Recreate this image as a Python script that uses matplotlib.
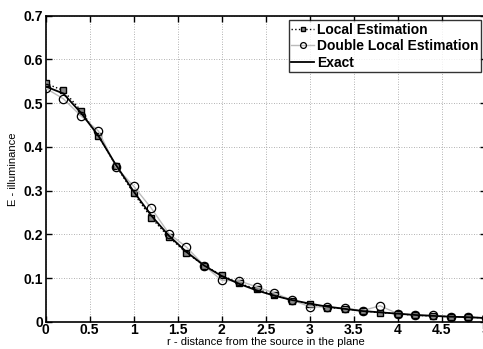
import matplotlib
matplotlib.use("Agg")
import matplotlib.pyplot as plt

r = [0.0, 0.2, 0.4, 0.6, 0.8, 1.0, 1.2, 1.4, 1.6, 1.8, 2.0, 2.2, 2.4, 2.6, 2.8,
     3.0, 3.2, 3.4, 3.6, 3.8, 4.0, 4.2, 4.4, 4.6, 4.8, 5.0]
local_est = [0.545, 0.529, 0.483, 0.424, 0.357, 0.294, 0.238, 0.194, 0.158, 0.129,
             0.107, 0.088, 0.075, 0.062, 0.049, 0.041, 0.033, 0.030, 0.026, 0.021,
             0.019, 0.015, 0.014, 0.012, 0.011, 0.009]
double_est = [0.534, 0.510, 0.471, 0.436, 0.354, 0.310, 0.260, 0.202, 0.171, 0.129,
              0.095, 0.094, 0.080, 0.066, 0.050, 0.035, 0.034, 0.032, 0.026, 0.037,
              0.019, 0.016, 0.015, 0.012, 0.011, 0.009]
exact = [0.538, 0.522, 0.478, 0.425, 0.358, 0.298, 0.243, 0.197, 0.160, 0.129,
         0.105, 0.087, 0.072, 0.060, 0.050, 0.042, 0.035, 0.030, 0.025, 0.022,
         0.019, 0.016, 0.014, 0.012, 0.011, 0.009]

xticks = [0, 0.5, 1, 1.5, 2, 2.5, 3, 3.5, 4, 4.5, 5]
xticklabels = ["0", "0.5", "1", "1.5", "2", "2.5", "3", "3.5", "4", "4.5", "5"]
yticks = [0, 0.1, 0.2, 0.3, 0.4, 0.5, 0.6, 0.7]
yticklabels = ["0", "0.1", "0.2", "0.3", "0.4", "0.5", "0.6", "0.7"]

plt.rcParams['font.family'] = ['Liberation Sans', 'DejaVu Sans']

fig = plt.figure(figsize=(4.83, 3.49), dpi=100)
ax = fig.add_axes([0.0946, 0.0774, 0.911, 0.878])

ax.plot(r, local_est, linestyle=':', color='black', linewidth=1.0,
        marker='s', markersize=4, markerfacecolor='#888888',
        markeredgecolor='black', markeredgewidth=1.0, label='Local Estimation', zorder=3)
ax.plot(r, double_est, linestyle='-', color='#bbbbbb', linewidth=1.0,
        marker='o', markersize=6, markerfacecolor='none',
        markeredgecolor='black', markeredgewidth=0.9, label='Double Local Estimation', zorder=4)
ax.plot(r, exact, linestyle='-', color='black', linewidth=1.3, label='Exact', zorder=5)

ax.set_xlim(0, 5)
ax.set_ylim(0, 0.7)
ax.set_xticks(xticks)
ax.set_xticklabels(xticklabels, fontweight='bold', fontsize=10)
ax.set_yticks(yticks)
ax.set_yticklabels(yticklabels, fontweight='bold', fontsize=10)
ax.tick_params(direction='in', top=True, right=True, length=4, width=1)
ax.tick_params(axis='x', pad=1)
ax.tick_params(axis='y', pad=2)
ax.grid(True, linestyle=(0, (1, 2)), color='#999999', linewidth=0.6)
for s in ax.spines.values():
    s.set_linewidth(1.2)

ax.set_xlabel('r - distance from the source in the plane', fontsize=8, labelpad=0)
ax.set_ylabel('E - illuminance', fontsize=8, labelpad=4)

leg = ax.legend(loc='upper right', bbox_to_anchor=(0.995, 0.993),
                prop={'weight': 'bold', 'size': 10}, frameon=True, fancybox=False,
                edgecolor='black', borderpad=0.15, labelspacing=0.2,
                handlelength=1.6, handletextpad=0.25, borderaxespad=0.2,
                markerscale=0.7)
leg.get_frame().set_linewidth(1.0)

fig.savefig('out.png', dpi=100)
